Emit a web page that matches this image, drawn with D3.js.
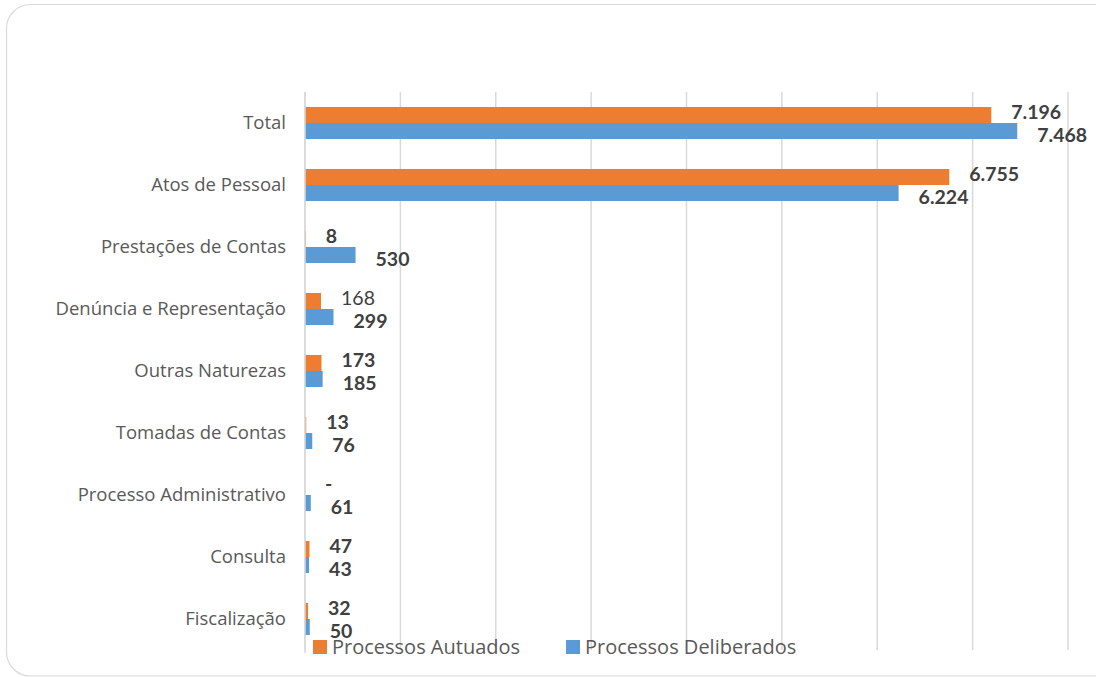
<!DOCTYPE html>
<html>
<head>
<meta charset="utf-8">
<script src="https://cdn.jsdelivr.net/npm/d3@7"></script>
<style>
  body { margin: 0; background: #fff; }
  svg { display: block; }
</style>
</head>
<body>
<svg id="chart" width="1096" height="677"></svg>
<script>
// categorias e valores do gráfico
const categories = [
  "Total", "Atos de Pessoal", "Prestações de Contas", "Denúncia e Representação",
  "Outras Naturezas", "Tomadas de Contas", "Processo Administrativo", "Consulta", "Fiscalização"
];
const autuados = [7196, 6755, 8, 168, 173, 13, 0, 47, 32];
const deliberados = [7468, 6224, 530, 299, 185, 76, 61, 43, 50];
const seriesNames = ["Processos Autuados", "Processos Deliberados"];
const xTicks = [0, 1000, 2000, 3000, 4000, 5000, 6000, 7000, 8000];

const colors = ["#ED7D31", "#5B9BD5"];
const margin = { top: 92, right: 28, bottom: 27, left: 305 };
const W = 1096, H = 677;
const width = W - margin.left - margin.right;
const height = H - margin.top - margin.bottom;

const ptBR = d3.formatLocale({ decimal: ",", thousands: ".", grouping: [3], currency: ["R$", ""] });
const fmt = v => v === 0 ? "-" : ptBR.format(",d")(v);

const svg = d3.select("#chart");

// moldura arredondada
svg.append("rect")
  .attr("x", 6.5).attr("y", 4.5)
  .attr("width", W + 20).attr("height", H - 5.5)
  .attr("rx", 24)
  .attr("fill", "#fff")
  .attr("stroke", "#d9d9d9")
  .attr("stroke-width", 1.2);

const chart = svg.append("g").attr("transform", `translate(${margin.left},${margin.top})`);

const x = d3.scaleLinear().domain([0, 8000]).range([0, width]);
const y = d3.scaleBand().domain(categories).range([0, height]).padding(0);

// linhas de grade
chart.append("g")
  .selectAll("line")
  .data(xTicks)
  .enter().append("line")
  .attr("x1", d => x(d)).attr("x2", d => x(d))
  .attr("y1", 0).attr("y2", height)
  .attr("stroke", "#d9d9d9")
  .attr("stroke-width", 1.5);

// eixo das categorias
const yAxis = chart.append("g").call(d3.axisLeft(y).tickSize(0).tickPadding(19));
yAxis.select(".domain").remove();
yAxis.selectAll("text")
  .attr("font-family", "'Open Sans', sans-serif")
  .attr("font-size", 18.5)
  .attr("fill", "#595959");

const rows = categories.map((c, i) => ({ cat: c, vals: [autuados[i], deliberados[i]] }));
const barH = 16;

const groups = chart.selectAll(".grp")
  .data(rows)
  .enter().append("g")
  .attr("class", "grp")
  .attr("transform", d => `translate(0,${y(d.cat) + y.bandwidth() / 2})`);

groups.selectAll("rect")
  .data(d => d.vals.map((v, s) => ({ v, s, cat: d.cat })))
  .enter().append("rect")
  .attr("x", 0)
  .attr("y", d => d.s === 0 ? -barH : 0)
  .attr("width", d => x(d.v))
  .attr("height", barH)
  .attr("fill", d => colors[d.s]);

// rótulos de dados
groups.selectAll("text")
  .data(d => d.vals.map((v, s) => ({ v, s, cat: d.cat })))
  .enter().append("text")
  .attr("x", d => x(d.v) + 20)
  .attr("y", d => d.s === 0 ? -11 : 12)
  .attr("dy", "0.35em")
  .attr("font-family", "Lato, 'Open Sans', sans-serif")
  .attr("font-size", 19.5)
  .attr("font-weight", d => (d.cat === "Denúncia e Representação" && d.s === 0) ? "normal" : "bold")
  .attr("fill", "#404040")
  .text(d => fmt(d.v));

// eixo vertical (linha base)
chart.append("line")
  .attr("x1", 0).attr("x2", 0)
  .attr("y1", 0).attr("y2", height + 3)
  .attr("stroke", "#d9d9d9")
  .attr("stroke-width", 1.5);

// legenda
const legend = svg.append("g").attr("transform", "translate(313,647)");
const legX = [0, 253];
seriesNames.forEach((name, i) => {
  const g = legend.append("g").attr("transform", `translate(${legX[i]},0)`);
  g.append("rect").attr("width", 14).attr("height", 14).attr("y", -7).attr("fill", colors[i]);
  g.append("text")
    .attr("x", 19).attr("y", 0).attr("dy", "0.35em")
    .attr("font-family", "'Open Sans', sans-serif")
    .attr("font-size", 20)
    .attr("fill", "#595959")
    .text(name);
});
</script>
</body>
</html>
